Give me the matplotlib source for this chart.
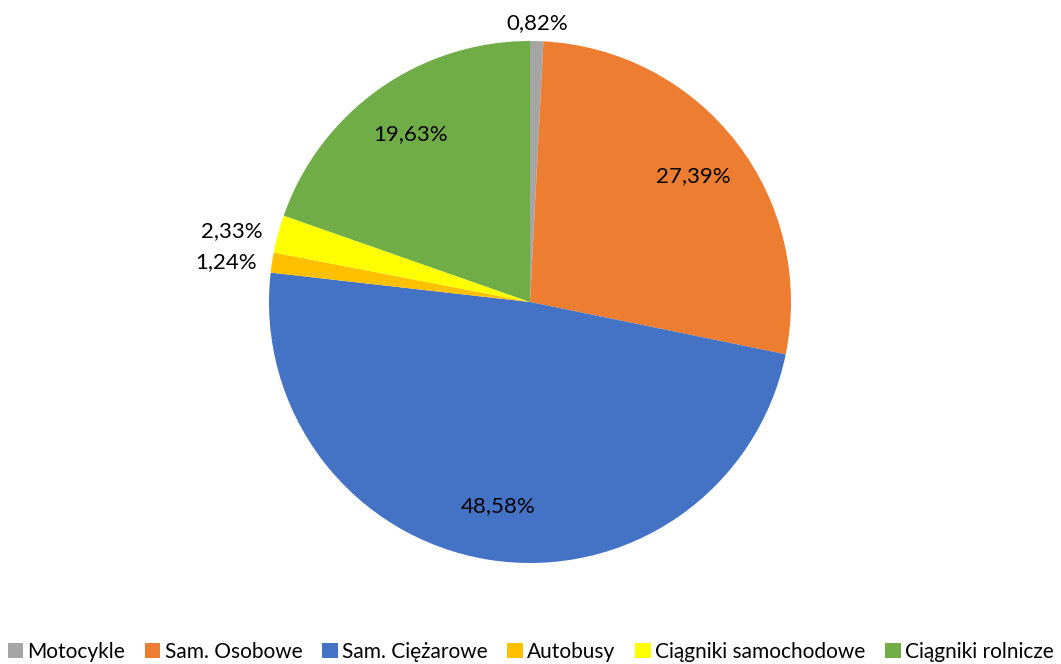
import numpy as np
import matplotlib.pyplot as plt

plt.rcParams['font.family'] = ['Lato', 'DejaVu Sans']

kategorie = ['Motocykle', 'Sam. Osobowe', 'Sam. Ciężarowe', 'Autobusy',
             'Ciągniki samochodowe', 'Ciągniki rolnicze']
udzialy = [0.82, 27.39, 48.58, 1.24, 2.33, 19.63]
kolory = ['#A5A5A5', '#ED7D31', '#4472C4', '#FFC000', '#FFFF00', '#70AD47']
etykiety = ['0,82%', '27,39%', '48,58%', '1,24%', '2,33%', '19,63%']

fig = plt.figure(figsize=(10.61, 6.64), dpi=100)
ax = fig.add_axes([(530 - 261) / 1061, (362 - 261) / 664, 522 / 1061, 522 / 664])

wedges, _ = ax.pie(udzialy, colors=kolory, startangle=90, counterclock=False,
                   radius=1, wedgeprops=dict(linewidth=0))
ax.set_xlim(-1, 1)
ax.set_ylim(-1, 1)
ax.set_aspect('equal')

fs = 16
for w, lab, v in zip(wedges, etykiety, udzialy):
    ang = np.deg2rad((w.theta1 + w.theta2) / 2)
    if v > 10:
        r = 0.79
        ax.text(r * np.cos(ang), r * np.sin(ang), lab, ha='center', va='center', fontsize=fs)
    else:
        r = 1.08
        x, y = r * np.cos(ang), r * np.sin(ang)
        if abs(x) < 0.2:
            ax.text(x, y - 0.05, lab, ha='center', va='bottom', fontsize=fs)
        else:
            ax.text(x + 0.02, y - 0.01, lab, ha='right', va='center', fontsize=fs)

fig.legend(wedges, kategorie, loc='lower center', bbox_to_anchor=(0.5, -0.025), ncol=6,
           frameon=False, fontsize=15, handlelength=0.75, handleheight=0.75,
           handletextpad=0.2, columnspacing=0.95)

fig.savefig('out.png', dpi=100)
